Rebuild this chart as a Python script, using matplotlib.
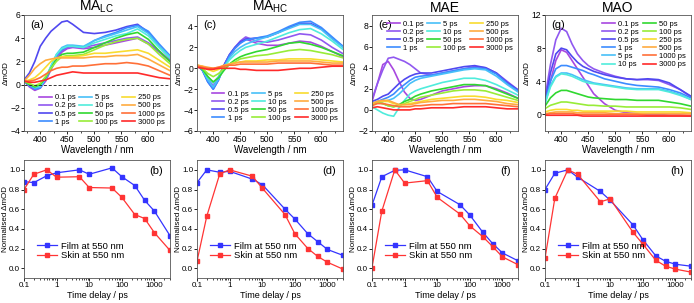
import numpy as np
import matplotlib
matplotlib.use("Agg")
import matplotlib.pyplot as plt
import matplotlib.ticker as ticker

plt.rcParams['font.family'] = ['Liberation Sans', 'DejaVu Sans']
plt.rcParams['mathtext.fontset'] = 'custom'
plt.rcParams['mathtext.rm'] = 'Liberation Sans'

# ---- data ----
wavelength = [370, 380, 390, 400, 410, 420, 430, 440, 450, 460, 480, 500, 520, 540, 560, 580, 600, 620, 640]
delays = ['0.1 ps', '0.2 ps', '0.5 ps', '1 ps', '5 ps', '10 ps',
          '50 ps', '100 ps', '250 ps', '500 ps', '1000 ps', '3000 ps']
colors = ['#a848e0', '#9058f0', '#5048f0', '#3c8cff', '#48c0f8', '#50ecdc',
          '#30d830', '#98ec38', '#f8dc30', '#ffac40', '#ff7038', '#ff2a2a']

ma_lc = [
    [0.3, -0.2, -0.5, -0.3, 0.3, 1.3, 2.2, 2.8, 3.1, 3.2, 3.1, 3.2, 3.4, 3.6, 3.8, 4.0, 3.5, 2.8, 2.0],
    [0.3, -0.1, -0.4, -0.2, 0.4, 1.4, 2.3, 2.9, 3.2, 3.3, 3.2, 3.4, 3.6, 3.8, 4.0, 4.1, 3.6, 2.9, 2.1],
    [0.4, 1.0, 2.0, 3.3, 4.0, 4.6, 5.0, 5.4, 5.5, 5.2, 4.5, 4.4, 4.5, 4.7, 5.0, 5.2, 4.5, 3.3, 2.3],
    [0.3, -0.1, -0.4, -0.3, 0.5, 1.5, 2.5, 3.0, 3.3, 3.3, 3.2, 3.8, 4.2, 4.5, 4.9, 5.1, 4.6, 3.5, 2.5],
    [0.3, 0.0, -0.3, -0.2, 0.5, 1.6, 2.6, 3.2, 3.4, 3.4, 3.3, 3.8, 4.1, 4.4, 4.7, 5.0, 4.4, 3.3, 2.4],
    [0.3, 0.0, -0.2, -0.1, 0.6, 1.6, 2.6, 3.1, 3.3, 3.3, 3.2, 3.6, 3.9, 4.2, 4.4, 4.8, 4.2, 3.2, 2.3],
    [0.3, 0.0, -0.2, 0.0, 0.6, 1.4, 2.2, 2.6, 2.7, 2.7, 2.8, 3.2, 3.6, 4.0, 4.3, 4.5, 3.9, 2.9, 2.0],
    [0.3, 0.1, -0.1, 0.1, 0.7, 1.4, 2.0, 2.4, 2.5, 2.5, 2.6, 3.0, 3.4, 3.7, 3.9, 4.0, 3.5, 2.6, 1.8],
    [0.3, 0.4, 0.6, 1.0, 1.5, 2.0, 2.3, 2.4, 2.4, 2.4, 2.5, 2.7, 2.7, 2.8, 2.9, 3.0, 2.7, 2.1, 1.5],
    [0.3, 0.8, 1.4, 1.8, 2.1, 2.2, 2.3, 2.3, 2.3, 2.3, 2.3, 2.4, 2.4, 2.5, 2.5, 2.6, 2.2, 1.7, 1.2],
    [0.3, 0.3, 0.4, 0.6, 0.9, 1.2, 1.4, 1.5, 1.5, 1.6, 1.6, 1.7, 1.8, 1.8, 1.9, 1.8, 1.6, 1.2, 0.8],
    [0.3, 0.2, 0.2, 0.3, 0.4, 0.6, 0.8, 0.9, 1.0, 1.1, 1.0, 1.0, 1.0, 1.0, 1.0, 1.0, 0.8, 0.6, 0.5],
]
ma_hc = [
    [0.3, 0.0, -0.8, -1.4, -0.8, 0.3, 1.2, 1.9, 2.4, 2.8, 2.4, 2.2, 2.2, 2.4, 2.6, 2.5, 2.1, 1.6, 1.1],
    [0.3, 0.0, -1.0, -1.7, -0.9, 0.3, 1.3, 2.0, 2.6, 3.0, 2.6, 2.5, 2.7, 3.0, 3.3, 3.2, 2.7, 2.0, 1.4],
    [0.3, -0.2, -1.3, -2.0, -1.1, 0.3, 1.3, 2.0, 2.5, 2.8, 2.9, 3.0, 3.4, 3.9, 4.3, 4.3, 3.8, 2.9, 2.1],
    [0.3, -0.2, -1.3, -2.0, -1.1, 0.2, 1.2, 1.9, 2.4, 2.7, 2.9, 3.1, 3.5, 4.0, 4.4, 4.5, 3.9, 3.0, 2.1],
    [0.3, -0.1, -1.1, -1.8, -1.0, 0.1, 1.0, 1.6, 2.0, 2.3, 2.7, 3.0, 3.4, 3.8, 4.2, 4.2, 3.7, 2.8, 2.0],
    [0.3, -0.1, -0.9, -1.4, -0.8, 0.1, 0.8, 1.3, 1.7, 2.0, 2.3, 2.6, 3.0, 3.4, 3.7, 3.8, 3.3, 2.6, 1.8],
    [0.3, -0.1, -0.8, -1.3, -0.9, -0.2, 0.4, 0.8, 1.1, 1.3, 1.6, 1.8, 2.1, 2.4, 2.5, 2.3, 2.0, 1.6, 1.2],
    [0.3, 0.0, -0.5, -0.8, -0.5, 0.0, 0.4, 0.6, 0.9, 1.0, 1.2, 1.3, 1.5, 1.7, 1.8, 1.7, 1.5, 1.3, 1.0],
    [0.3, 0.2, -0.1, -0.3, -0.1, 0.2, 0.4, 0.5, 0.6, 0.7, 0.7, 0.8, 0.8, 0.9, 0.9, 0.9, 0.8, 0.7, 0.6],
    [0.3, 0.2, 0.1, 0.0, 0.1, 0.3, 0.4, 0.5, 0.6, 0.6, 0.6, 0.6, 0.7, 0.7, 0.7, 0.7, 0.6, 0.5, 0.5],
    [0.2, 0.1, 0.0, 0.0, 0.1, 0.2, 0.3, 0.3, 0.4, 0.4, 0.4, 0.4, 0.5, 0.5, 0.5, 0.5, 0.4, 0.3, 0.3],
    [0.1, 0.0, -0.1, -0.1, 0.0, 0.0, 0.0, 0.0, -0.1, -0.1, -0.2, -0.2, -0.2, -0.1, 0.0, 0.0, 0.1, 0.2, 0.2],
]
mae = [
    [0.8, 2.5, 4.3, 4.6, 3.8, 2.7, 1.7, 1.1, 0.9, 1.0, 1.4, 1.8, 2.0, 2.2, 2.3, 2.3, 2.0, 1.6, 1.1],
    [1.0, 2.5, 3.8, 4.9, 5.0, 4.8, 4.6, 4.3, 3.9, 3.5, 3.3, 3.5, 3.7, 3.9, 4.1, 4.0, 3.5, 2.7, 1.9],
    [0.8, 1.0, 1.3, 1.5, 2.0, 2.5, 2.9, 3.2, 3.4, 3.5, 3.5, 3.7, 3.9, 4.1, 4.2, 4.0, 3.5, 2.6, 1.9],
    [0.6, 0.8, 1.0, 1.2, 1.5, 2.0, 2.4, 2.8, 3.1, 3.2, 3.3, 3.5, 3.7, 3.9, 4.0, 3.9, 3.4, 2.5, 1.8],
    [0.6, 0.7, 0.8, 0.9, 1.1, 1.5, 2.0, 2.5, 2.8, 3.0, 3.2, 3.4, 3.6, 3.8, 3.9, 3.8, 3.2, 2.4, 1.7],
    [0.3, 0.0, -0.3, -0.5, -0.6, 0.2, 0.9, 1.5, 1.8, 2.0, 2.3, 2.6, 2.8, 3.0, 3.0, 2.8, 2.4, 1.9, 1.4],
    [0.5, 0.7, 0.6, 0.4, 0.3, 0.5, 0.8, 1.0, 1.3, 1.5, 1.8, 2.0, 2.2, 2.4, 2.4, 2.3, 1.9, 1.5, 1.1],
    [0.5, 0.7, 0.6, 0.4, 0.3, 0.4, 0.6, 0.8, 1.0, 1.2, 1.4, 1.6, 1.8, 1.9, 1.9, 1.8, 1.5, 1.2, 0.9],
    [0.6, 0.8, 0.8, 0.8, 0.6, 0.5, 0.5, 0.6, 0.7, 0.8, 1.0, 1.1, 1.2, 1.3, 1.3, 1.2, 1.0, 0.9, 0.7],
    [0.6, 0.8, 0.9, 0.9, 0.7, 0.5, 0.5, 0.5, 0.6, 0.7, 0.8, 0.9, 0.9, 1.0, 1.0, 0.9, 0.8, 0.6, 0.5],
    [0.4, 0.6, 0.6, 0.5, 0.4, 0.3, 0.3, 0.3, 0.4, 0.4, 0.5, 0.5, 0.6, 0.6, 0.6, 0.6, 0.5, 0.4, 0.3],
    [0.2, 0.3, 0.2, 0.1, 0.0, 0.0, 0.0, 0.0, 0.1, 0.1, 0.2, 0.2, 0.2, 0.3, 0.3, 0.3, 0.2, 0.1, 0.1],
]
mao = [
    [1.5, 4.0, 6.5, 7.8, 7.5, 6.5, 5.5, 4.5, 3.5, 2.5, 1.3, 0.5, 0.2, 0.1, 0.0, 0.0, -0.1, -0.1, -0.2],
    [2.0, 6.0, 9.0, 10.4, 10.0, 8.5, 7.3, 6.5, 5.9, 5.5, 5.0, 4.6, 4.3, 4.2, 4.2, 4.1, 3.6, 3.0, 2.1],
    [1.5, 5.0, 7.3, 8.0, 7.8, 7.0, 6.3, 5.8, 5.5, 5.2, 4.8, 4.5, 4.3, 4.2, 4.3, 4.2, 3.8, 3.0, 2.2],
    [1.5, 4.0, 5.5, 5.9, 5.9, 5.7, 5.5, 5.3, 5.0, 4.8, 4.3, 4.0, 3.7, 3.5, 3.4, 3.3, 3.0, 2.6, 2.0],
    [1.3, 3.5, 4.6, 5.0, 5.0, 4.8, 4.5, 4.2, 4.0, 3.8, 3.6, 3.4, 3.2, 3.1, 3.1, 3.1, 2.8, 2.4, 1.8],
    [1.3, 3.3, 4.5, 4.9, 4.8, 4.6, 4.3, 4.0, 3.8, 3.7, 3.5, 3.3, 3.1, 3.0, 3.0, 3.0, 2.7, 2.3, 1.8],
    [1.0, 2.0, 2.6, 2.9, 2.9, 2.7, 2.5, 2.3, 2.1, 2.0, 1.9, 1.8, 1.8, 1.7, 1.7, 1.7, 1.5, 1.3, 1.0],
    [0.7, 1.1, 1.3, 1.5, 1.5, 1.4, 1.3, 1.2, 1.1, 1.1, 1.0, 1.0, 0.9, 0.9, 0.9, 0.9, 0.9, 0.8, 0.6],
    [0.3, 0.5, 0.6, 0.6, 0.6, 0.5, 0.5, 0.4, 0.4, 0.4, 0.4, 0.4, 0.4, 0.3, 0.3, 0.3, 0.3, 0.3, 0.2],
    [0.1, 0.2, 0.3, 0.3, 0.3, 0.3, 0.2, 0.2, 0.2, 0.2, 0.2, 0.1, 0.1, 0.1, 0.1, 0.1, 0.1, 0.1, 0.1],
    [0.0, 0.1, 0.1, 0.1, 0.1, 0.1, 0.0, 0.0, 0.0, 0.0, 0.0, 0.0, 0.0, 0.0, -0.1, -0.1, -0.1, -0.1, -0.1],
    [-0.1, -0.1, -0.1, -0.1, -0.1, -0.1, -0.1, -0.2, -0.2, -0.2, -0.2, -0.2, -0.2, -0.2, -0.2, -0.2, -0.2, -0.2, -0.2],
]

time_ps = [0.1, 0.2, 0.5, 1, 5, 10, 50, 100, 250, 500, 1000, 3000]
film_lc = [0.88, 0.87, 0.94, 0.97, 1.0, 0.955, 1.02, 0.93, 0.84, 0.69, 0.58, 0.33]
skin_lc = [0.80, 0.955, 1.0, 0.925, 0.93, 0.82, 0.815, 0.72, 0.545, 0.505, 0.36, 0.18]
film_hc = [0.87, 1.0, 0.975, 0.985, 0.905, 0.85, 0.60, 0.50, 0.35, 0.27, 0.19, 0.13]
skin_hc = [0.07, 0.53, 0.96, 1.0, 0.935, 0.815, 0.545, 0.35, 0.20, 0.12, 0.06, -0.01]
film_e = [0.64, 0.93, 0.995, 1.0, 0.93, 0.78, 0.645, 0.54, 0.365, 0.25, 0.155, 0.075]
skin_e = [0.005, 0.58, 1.0, 0.865, 0.89, 0.72, 0.55, 0.43, 0.32, 0.22, 0.115, 0.035]
film_o = [0.80, 0.965, 1.0, 0.925, 0.78, 0.69, 0.44, 0.29, 0.125, 0.07, 0.04, 0.02]
skin_o = [0.10, 0.71, 1.0, 0.955, 0.675, 0.705, 0.365, 0.245, 0.08, 0.02, -0.01, -0.04]

titles = ['MA$_\\mathregular{LC}$', 'MA$_\\mathregular{HC}$', 'MAE', 'MAO']
top_labels = ['(a)', '(c)', '(e)', '(g)']
bot_labels = ['(b)', '(d)', '(f)', '(h)']
top_ylims = [(-4, 6), (-6, 5.1), (-2, 9), (-2, 12)]
top_yticks = [np.arange(-4, 7, 2), np.arange(-6, 5, 2), np.arange(-2, 9, 2), np.arange(0, 13, 4)]
spectra = [ma_lc, ma_hc, mae, mao]
kinetics = [(film_lc, skin_lc), (film_hc, skin_hc), (film_e, skin_e), (film_o, skin_o)]

W, H = 694, 303
fig = plt.figure(figsize=(W / 100, H / 100), dpi=100)
lefts = [24, 197, 372, 545]
aw = 146

# legend placement per spectra panel: (ncol, loc, anchor)
leg_opts = [(3, 'lower right', (1.0, 0.0)), (3, 'lower right', (1.0, 0.03)),
            (3, 'upper right', (1.0, 1.0)), (2, 'upper right', (1.0, 1.0))]

for i in range(4):
    # spectra panel
    ax = fig.add_axes([lefts[i] / W, 1 - 131 / H, aw / W, 116 / H])
    for k in range(12):
        ax.plot(wavelength, spectra[i][k], color=colors[k], lw=1.2, label=delays[k])
    if i == 0:
        ax.axhline(0, color='#333333', ls='--', lw=0.7, dashes=(3, 2))
    ax.set_xlim(370, 640)
    ax.set_ylim(*top_ylims[i])
    ax.set_yticks(top_yticks[i])
    ax.set_xticks([400, 450, 500, 550, 600])
    ax.xaxis.set_minor_locator(ticker.MultipleLocator(25))
    ax.tick_params(direction='out', length=2, width=0.6, labelsize=6.2, pad=0.8)
    ax.tick_params(which='minor', direction='out', length=1.3, width=0.5)
    ax.set_xlabel('Wavelength / nm', fontsize=7, labelpad=0.8)
    ax.set_ylabel('\u0394mOD', fontsize=5.8)
    ax.yaxis.set_label_coords(-0.1, 0.5)
    ax.set_title(titles[i], fontsize=10, pad=1)
    ax.text(0.04, 0.96, top_labels[i], transform=ax.transAxes, fontsize=8, va='top', ha='left')
    for s in ax.spines.values():
        s.set_linewidth(0.6)
        s.set_color('#555555')

    ncol, loc, anchor = leg_opts[i]
    ax.legend(ncol=ncol, loc=loc, bbox_to_anchor=anchor, fontsize=5.5,
              frameon=False, handlelength=1.7, labelspacing=0.1, columnspacing=0.5,
              handletextpad=0.4, borderaxespad=0.3)

    # kinetics panel
    bx = fig.add_axes([lefts[i] / W, 1 - 278 / H, aw / W, 118 / H])
    film, skin = kinetics[i]
    bx.plot(time_ps, film, color='#3434ff', lw=0.9, marker='s', ms=2.2, label='Film at 550 nm')
    bx.plot(time_ps, skin, color='#ff3434', lw=0.9, marker='s', ms=2.2, label='Skin at 550 nm')
    bx.set_xscale('log')
    bx.set_xlim(0.1, 3000)
    bx.set_ylim(-0.1, 1.1)
    bx.set_yticks(np.arange(0, 1.01, 0.2))
    bx.yaxis.set_major_formatter(ticker.FormatStrFormatter('%.1f'))
    bx.set_xticks([0.1, 1, 10, 100, 1000])
    bx.xaxis.set_major_formatter(ticker.FuncFormatter(lambda v, p: '%g' % v))
    bx.xaxis.set_minor_formatter(ticker.NullFormatter())
    bx.tick_params(direction='out', length=2, width=0.6, labelsize=5.8, pad=0.8)
    bx.tick_params(which='minor', direction='out', length=1.3, width=0.5)
    bx.set_xlabel('Time delay / ps', fontsize=6.5, labelpad=1.5)
    bx.set_ylabel('Normalised \u0394mOD', fontsize=5.8)
    bx.yaxis.set_label_coords(-0.105, 0.5)
    bx.text(0.95, 0.95, bot_labels[i], transform=bx.transAxes, fontsize=8, va='top', ha='right')
    for s in bx.spines.values():
        s.set_linewidth(0.6)
        s.set_color('#555555')
    bx.legend(loc='lower left', bbox_to_anchor=(0.06, 0.12), fontsize=6.8, frameon=False,
              handlelength=2.2, labelspacing=0.05, handletextpad=0.4, borderaxespad=0.0)

fig.savefig('out.png', dpi=100)
